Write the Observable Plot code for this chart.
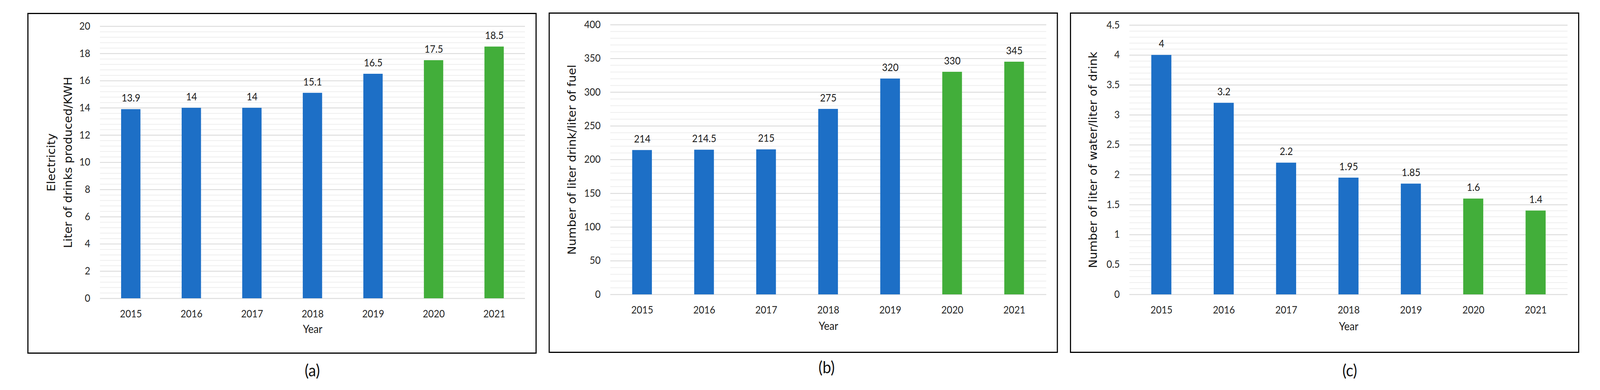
<!DOCTYPE html>
<html>
<head>
<meta charset="utf-8">
<script src="https://cdn.jsdelivr.net/npm/d3@7"></script>
<script src="https://cdn.jsdelivr.net/npm/@observablehq/plot@0.6"></script>
<style>
  html, body { margin: 0; padding: 0; background: #fff; overflow: hidden; }
  #stage { position: absolute; left: 0; top: 0; width: 4386px; height: 999px; transform-origin: 0 0; background: #fff; }
  .box { position: absolute; border: 3px solid #000; box-sizing: border-box; pointer-events: none; }
  .cap { position: absolute; font-family: Lato, "Open Sans", sans-serif; font-size: 42px; color: #111; transform: translate(-50%, -50%); white-space: nowrap; }
  svg.chart { position: absolute; }
</style>
</head>
<body>
<div id="stage"></div>
<script>
// ---- data ----
const years = ["2015", "2016", "2017", "2018", "2019", "2020", "2021"];
const highlightYears = ["2020", "2021"];
const electricity = [13.9, 14, 14, 15.1, 16.5, 17.5, 18.5];
const fuel = [214, 214.5, 215, 275, 320, 330, 345];
const water = [4, 3.2, 2.2, 1.95, 1.85, 1.6, 1.4];
const ticksA = [0, 2, 4, 6, 8, 10, 12, 14, 16, 18, 20];
const ticksB = [0, 50, 100, 150, 200, 250, 300, 350, 400];
const ticksC = [0, 0.5, 1, 1.5, 2, 2.5, 3, 3.5, 4, 4.5];
const titleA = ["Electricity", "Liter of drinks produced/KWH"];
const titleB = ["Number of liter drink/liter of fuel"];
const titleC = ["Number of liter of water/liter of drink"];
const xTitle = "Year";
const captions = ["(a)", "(b)", "(c)"];

// ---- layout / style ----
const BLUE = "#1d6fc6";
const GREEN = "#42ae3a";
const FULL_W = 4386, FULL_H = 999;

const stage = document.getElementById("stage");
// the window may be narrower than the design width: fit it horizontally
const kx = Math.min(1, window.innerWidth / FULL_W);
if (kx < 1) stage.style.transform = `scaleX(${kx})`;

const panels = [
  { values: electricity, ticks: ticksA, minorStep: 0.4, title: titleA, caption: captions[0],
    box: [75, 33, 1471, 906], frame: [274, 1439, 67, 764], titleBase: [151, 196], yearY: 852, cap: [856, 948] },
  { values: fuel, ticks: ticksB, minorStep: 10, title: titleB, caption: captions[1],
    box: [1504, 32, 2900, 904], frame: [1673, 2868, 63, 754], titleBase: [1578], yearY: 844, cap: [2266, 940] },
  { values: water, ticks: ticksC, minorStep: 0.1, title: titleC, caption: captions[2],
    box: [2933, 32, 4329, 904], frame: [3096, 4297, 64, 754], titleBase: [3006], yearY: 845, cap: [3700, 948] }
];

for (const p of panels) {
  const [bx0, by0, bx1, by1] = p.box;
  const [fx0, fx1, fy0, fy1] = p.frame;
  const data = years.map((y, i) => ({
    year: y,
    value: p.values[i],
    group: highlightYears.includes(y) ? "highlight" : "base"
  }));
  const top = p.ticks[p.ticks.length - 1];
  const minor = d3.range(0, top + p.minorStep / 2, p.minorStep);

  const marks = [
    Plot.ruleY(minor, { stroke: "#eeeeee", strokeWidth: 2 }),
    Plot.ruleY(p.ticks, { stroke: "#d9d9d9", strokeWidth: 2 }),
    Plot.barY(data, { x: "year", y: "value", fill: "group" }),
    Plot.text(data, { x: "year", y: "value", text: d => String(d.value), dy: -28,
      fontSize: 26, fill: "#1a1a1a", fontFamily: "Lato, sans-serif" }),
    Plot.axisY(p.ticks, { tickSize: 0, tickPadding: 27, label: null, fontSize: 26, tickFormat: d => String(d) }),
    Plot.axisX({ tickSize: 0, tickPadding: 30, label: null, fontSize: 26 }),
    Plot.text([xTitle], { frameAnchor: "bottom", dy: p.yearY - fy1, fontSize: 28, fill: "#1a1a1a" })
  ];
  p.title.forEach((line, i) => {
    marks.push(Plot.text([line], {
      frameAnchor: "left", rotate: -90, textAnchor: "middle", lineAnchor: "bottom",
      dx: p.titleBase[i] - fx0, fontSize: 30, fontFamily: "DejaVu Sans, sans-serif", fill: "#111"
    }));
  });

  const svg = Plot.plot({
    width: bx1 - bx0,
    height: by1 - by0,
    marginLeft: fx0 - bx0,
    marginRight: bx1 - fx1,
    marginTop: fy0 - by0,
    marginBottom: by1 - fy1,
    style: { fontFamily: "Lato, sans-serif", fontSize: "26px", color: "#262626", background: "transparent", overflow: "visible" },
    x: { domain: years, paddingInner: 0.68, paddingOuter: 0.34 },
    y: { domain: [0, top] },
    color: { domain: ["base", "highlight"], range: [BLUE, GREEN] },
    marks
  });
  svg.classList.add("chart");
  svg.style.left = bx0 + "px";
  svg.style.top = by0 + "px";
  stage.appendChild(svg);

  const box = document.createElement("div");
  box.className = "box";
  Object.assign(box.style, { left: bx0 + "px", top: by0 + "px", width: (bx1 - bx0) + "px", height: (by1 - by0) + "px" });
  stage.appendChild(box);

  const cap = document.createElement("div");
  cap.className = "cap";
  cap.textContent = p.caption;
  cap.style.left = p.cap[0] + "px";
  cap.style.top = p.cap[1] + "px";
  stage.appendChild(cap);
}
</script>
</body>
</html>
